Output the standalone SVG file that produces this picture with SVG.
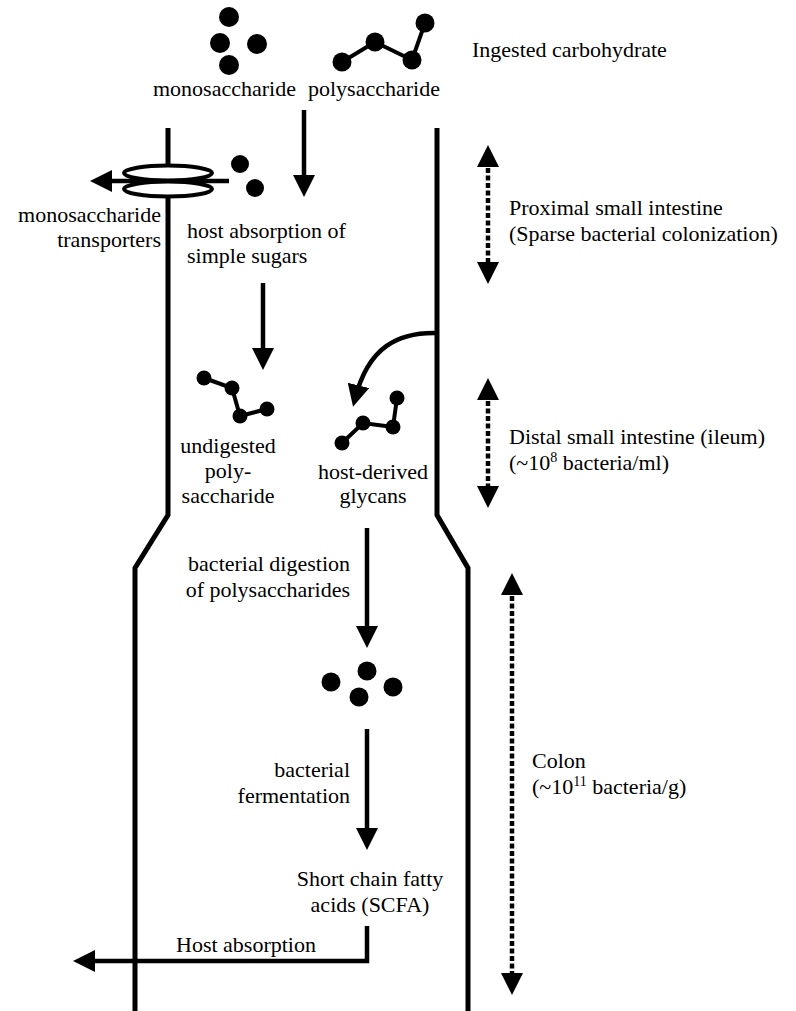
<svg xmlns="http://www.w3.org/2000/svg" width="796" height="1011" viewBox="0 0 796 1011">
<style>
text{font-family:"Liberation Serif","Times New Roman",serif;font-size:22px;fill:#000}
.wall{fill:none;stroke:#000;stroke-width:5}
.arr{fill:none;stroke:#000;stroke-width:4.5;marker-end:url(#ah)}
.dot{fill:none;stroke:#000;stroke-width:4.5;stroke-dasharray:5 2.5;marker-start:url(#ah);marker-end:url(#ah)}
.bond{fill:none;stroke:#000;stroke-width:4}
.ring{fill:#fff;stroke:#000;stroke-width:4}
circle{fill:#000}
.e{text-anchor:end}
.m{text-anchor:middle}
</style>
<defs>
<marker id="ah" markerUnits="userSpaceOnUse" markerWidth="22" markerHeight="22" viewBox="0 0 22 22" refX="14" refY="11" orient="auto-start-reverse"><path d="M0,0 L22,11 L0,22 z" fill="#000"/></marker>
</defs>
<g id="intestine">
<path class="wall" d="M168,128 V515 L135,568 V1011"/>
<path class="wall" d="M437,128 V515 L468,568 V1011"/>
</g>
<g id="connectors">
<path class="arr" d="M229,181 H98"/>
<path class="arr" d="M304,110 V189"/>
<path class="arr" d="M263,283 V362"/>
<path class="arr" d="M437,333 C398,332 368,347 355,399"/>
<path class="arr" d="M367,528 V640"/>
<path class="arr" d="M367,729 V842"/>
<path class="arr" d="M367,926 V961 H81"/>
<path class="dot" d="M488,153 V276"/>
<path class="dot" d="M488,386 V500"/>
<path class="dot" d="M512,581 V987"/>
</g>
<g id="transporters">
<ellipse class="ring" cx="168" cy="173" rx="44" ry="7.5"/>
<ellipse class="ring" cx="168" cy="189" rx="44" ry="7.5"/>
<text class="e" x="161" y="222">monosaccharide</text>
<text class="e" x="161" y="247">transporters</text>
</g>
<g id="monosaccharide">
<circle cx="229" cy="17" r="10"/><circle cx="220" cy="43" r="10"/><circle cx="257" cy="44" r="10"/><circle cx="229" cy="65" r="10"/>
<text x="153" y="96">monosaccharide</text>
</g>
<g id="polysaccharide">
<polyline class="bond" points="342,62 375,42 412,60 425,23"/>
<circle cx="342" cy="62" r="9.5"/><circle cx="375" cy="42" r="9.5"/><circle cx="412" cy="60" r="9.5"/><circle cx="425" cy="23" r="9.5"/>
<text x="308" y="96">polysaccharide</text>
</g>
<g id="ingested">
<text x="472" y="57">Ingested carbohydrate</text>
</g>
<g id="simple-sugars">
<circle cx="240" cy="164" r="9"/><circle cx="255" cy="188" r="9"/>
<text x="187" y="238">host absorption of</text>
<text x="187" y="263">simple sugars</text>
</g>
<g id="undigested">
<polyline class="bond" points="204,378 232,388 240,416 267,409"/>
<circle cx="204" cy="378" r="7.5"/><circle cx="232" cy="388" r="7.5"/><circle cx="240" cy="416" r="7.5"/><circle cx="267" cy="409" r="7.5"/>
<text class="m" x="228" y="453">undigested</text>
<text class="m" x="228" y="478">poly-</text>
<text class="m" x="228" y="503">saccharide</text>
</g>
<g id="glycans">
<polyline class="bond" points="342,443 363,423 393,427 397,398"/>
<circle cx="342" cy="443" r="7.5"/><circle cx="363" cy="423" r="7.5"/><circle cx="393" cy="427" r="7.5"/><circle cx="397" cy="398" r="7.5"/>
<text class="m" x="373" y="479">host-derived</text>
<text class="m" x="373" y="503">glycans</text>
</g>
<g id="digestion">
<text class="e" x="350" y="571">bacterial digestion</text>
<text class="e" x="350" y="597">of polysaccharides</text>
</g>
<g id="monomers">
<circle cx="331" cy="682" r="9.5"/><circle cx="367" cy="671" r="9.5"/><circle cx="359" cy="697" r="9.5"/><circle cx="393" cy="687" r="9.5"/>
</g>
<g id="fermentation">
<text class="e" x="350" y="777">bacterial</text>
<text class="e" x="350" y="803">fermentation</text>
</g>
<g id="scfa">
<text class="m" x="370" y="886">Short chain fatty</text>
<text class="m" x="370" y="912">acids (SCFA)</text>
</g>
<g id="host-absorption">
<text x="176" y="952">Host absorption</text>
</g>
<g id="proximal">
<text x="509" y="215">Proximal small intestine</text>
<text x="509" y="241">(Sparse bacterial colonization)</text>
</g>
<g id="distal">
<text x="509" y="444">Distal small intestine (ileum)</text>
<text x="509" y="470">(~10<tspan dy="-8" font-size="14">8</tspan><tspan dy="8"> bacteria/ml)</tspan></text>
</g>
<g id="colon">
<text x="532" y="768">Colon</text>
<text x="532" y="794">(~10<tspan dy="-8" font-size="14">11</tspan><tspan dy="8"> bacteria/g)</tspan></text>
</g>
</svg>
